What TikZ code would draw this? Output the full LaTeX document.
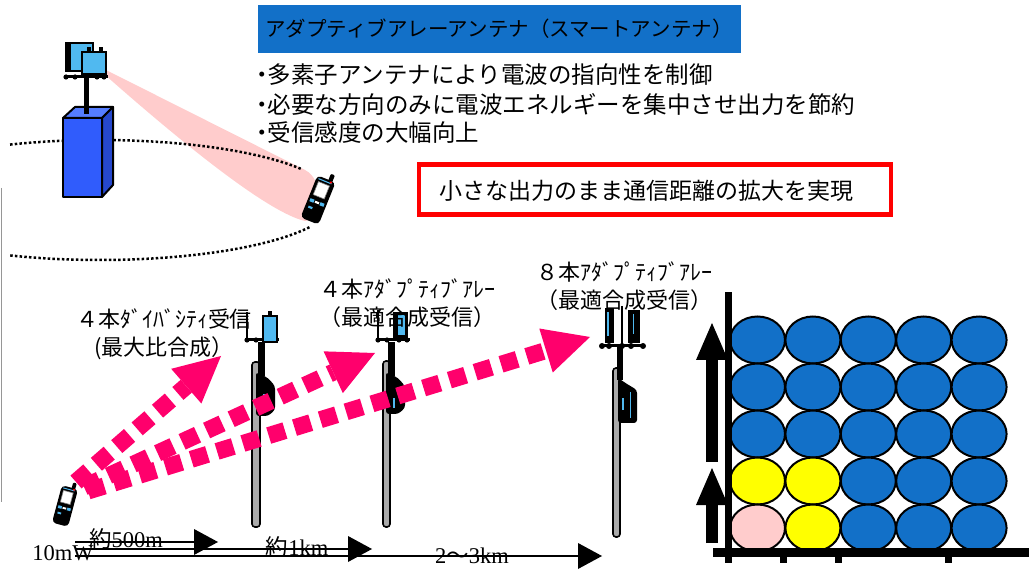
\documentclass[tikz,border=0pt]{standalone}
\usepackage{fontspec}
\newfontfamily\jp{Noto Sans CJK JP}
\newfontfamily\tnr{Liberation Serif}
\usetikzlibrary{arrows.meta,calc,shapes.geometric}
\definecolor{titleblue}{RGB}{18,112,200}
\definecolor{cellblue}{RGB}{18,112,200}
\definecolor{cellyellow}{RGB}{255,255,0}
\definecolor{cellpink}{RGB}{255,204,204}
\definecolor{wavepink}{RGB}{255,0,108}
\definecolor{beampink}{RGB}{255,204,204}
\definecolor{panelblue}{RGB}{80,185,240}
\definecolor{polegray}{RGB}{170,170,170}
\definecolor{bsfront}{RGB}{48,92,252}
\definecolor{bstop}{RGB}{85,125,255}
\definecolor{bsside}{RGB}{38,72,205}
\definecolor{edgegray}{RGB}{150,150,150}
\begin{document}
\begin{tikzpicture}[x=1pt,y=-1pt,
  every node/.style={inner sep=0pt},
  bullet/.style={font=\jp\fontsize{23.5}{28}\selectfont, anchor=west},
  lbl/.style={font=\jp\fontsize{22}{28}\selectfont, align=center},
  dist/.style={font=\tnr\fontsize{22.5}{26}\selectfont},
  wave/.style={draw=wavepink, line width=17pt, dash pattern=on 17pt off 10pt,
    -{Triangle[length=46pt,width=46pt,line width=0pt]}},
  meas/.style={draw=black, line width=2.5pt,
    -{Triangle[length=24pt,width=26pt,line width=0pt]}},
  uparrow/.style={draw=black, line width=12pt,
    -{Triangle[length=37pt,width=32pt,line width=0pt]}},
  cell/.style={ellipse, draw=black, line width=2pt, minimum width=55pt,
    minimum height=47pt, inner sep=0pt},
  panel/.style={fill=panelblue, draw=black, line width=2pt},
  polebody/.style={fill=polegray, draw=black, line width=1.6pt, rounded corners=3pt},
  phone/.pic={
    \fill[black, rounded corners=1pt] (2,-27) rectangle (6,-19);
    \fill[black, rounded corners=4pt] (-9,-21) rectangle (9,21);
    \fill[panelblue] (-7,-19) rectangle (6,-18);
    \fill[red] (5,-19.5) circle (1.2);
    \fill[white, draw=gray, line width=0.6pt] (-6,-16) rectangle (5,-3);
    \fill[panelblue] (-7,1) rectangle (-3,4);
    \fill[panelblue] (3,1) rectangle (7,4);
    \fill[white] (-2,1.5) rectangle (2,3.5);
    \fill[panelblue] (-6,8) rectangle (-2,10);
  }
]
\useasboundingbox (0,0) rectangle (1029,577);

% thin grey rule at the left edge
\draw[edgegray, line width=1.5pt] (1.5,188) -- (1.5,502);

% ---------- title and bullet points ----------
\node[fill=titleblue, minimum width=483pt, minimum height=48pt] (title) at (499.5,29) {};
\node[font=\jp\fontsize{20.5}{24}\selectfont] (titletext) at (499,29)
  {アダプティブアレーアンテナ（スマートアンテナ）};
\node[bullet] (b1) at (250,75) {・\kern-6pt 多素子アンテナにより電波の指向性を制御};
\node[bullet] (b2) at (250,104) {・\kern-6pt 必要な方向のみに電波エネルギーを集中させ出力を節約};
\node[bullet] (b3) at (250,133) {・\kern-6pt 受信感度の大幅向上};

\node[draw=red, line width=4.5pt, minimum width=472pt, minimum height=50pt] (goal) at (655,189.5) {};
\node[font=\jp\fontsize{23}{28}\selectfont] (goaltext) at (646,191)
  {小さな出力のまま通信距離の拡大を実現};

% ---------- smart antenna base station ----------
% beam towards the handset
\fill[beampink] (104,69) -- (305,170) .. controls (325,180) and (322,220) .. (305,221)
  .. controls (270,213) and (190,150) .. (104,74) -- cycle;
% dotted cell border
\draw[black, line width=2.5pt, dash pattern=on 2.5pt off 2.2pt, domain=112.5:31, samples=80]
  plot ({100+235*cos(\x)}, {200-60*sin(\x)});
\draw[black, line width=2.5pt, dash pattern=on 2.5pt off 2.2pt, domain=-27:-112.5, samples=80]
  plot ({100+235*cos(\x)}, {200-60*sin(\x)});
% building
\filldraw[fill=bsfront, draw=black, line width=2pt, line join=round] (63,118) rectangle (102,197);
\filldraw[fill=bstop, draw=black, line width=2pt, line join=round] (63,118) -- (75,107) -- (113,107) -- (102,118) -- cycle;
\filldraw[fill=bsside, draw=black, line width=2pt, line join=round] (102,118) -- (113,107) -- (113,185) -- (102,197) -- cycle;
% mast and panels
\draw[black, line width=5pt] (86,77) -- (86,114);
\draw[black, line width=3pt] (64,77) -- (108,77);
\foreach \bx in {66,75,97,104} \fill[black] (\bx,77) circle (2.6);
\draw[panel] (66,43) rectangle (93,71);
\fill[black] (66,43) rectangle (71,71);
\draw[panel] (82,52) rectangle (106,74);
\fill[black] (87,47) rectangle (91,52);
\fill[black] (99,47) rectangle (103,52);
% handset in the cell
\pic[rotate=-22, scale=1.08] (hs1) at (318,200) {phone};

% ---------- base station poles ----------
% pole with 4-branch diversity
\begin{scope}[shift={(256,0)}]
  \draw[polebody] (-4,362) rectangle (4,527);
  \fill[black] (2,342) rectangle (9,376);
  \fill[black, rounded corners=3pt] (0,372) -- (12,378) -- (19,386) -- (19,410) -- (12,416) -- (0,416) -- cycle;
  \draw[panelblue, line width=1.5pt] (8,394) -- (8,406);
  \draw[black, line width=2.5pt] (-9,312) -- (-9,340);
  \draw[black, line width=3pt] (-11,340) -- (23,340);
  \foreach \bx in {-9,0,12,20} \fill[black] (\bx,340) circle (2.6);
  \draw[panel] (7,316) rectangle (21,342);
  \fill[black] (12,311) rectangle (16,316);
\end{scope}
% pole with 4-element adaptive array
\begin{scope}[shift={(387,0)}]
  \draw[polebody] (-4,361) rectangle (3,527);
  \fill[black] (1,342) rectangle (8,376);
  \fill[black, rounded corners=3pt] (-1,372) -- (11,378) -- (18,386) -- (18,408) -- (11,414) -- (-1,414) -- cycle;
  \draw[panelblue, line width=1.5pt] (7,398) -- (7,408);
  \draw[black, line width=2.5pt] (-9,310) -- (-9,340);
  \draw[black, line width=3pt] (-11,340) -- (23,340);
  \foreach \bx in {-9,0,12,20} \fill[black] (\bx,340) circle (2.6);
  \draw[black, line width=3pt, fill=panelblue] (7,314) rectangle (19,337);
  \fill[black] (7,314) rectangle (11,337);
\end{scope}
% pole with 8-element adaptive array
\begin{scope}[shift={(617,0)}]
  \draw[polebody] (-4,368) rectangle (3,537);
  \fill[black] (0,346) rectangle (6,380);
  \fill[black, rounded corners=3pt] (1,378) -- (10,384) -- (20,390) -- (20,423) -- (1,423) -- cycle;
  \draw[panelblue, line width=1.5pt] (6,398) -- (6,410);
  \draw[panelblue, line width=1pt] (13,392) -- (13,418);
  \draw[black, line width=2.5pt] (5,306) -- (5,346);
  \draw[black, line width=3pt] (-17,346) -- (28,346);
  \foreach \bx in {-15,-8,5,14,26} \fill[black] (\bx,346) circle (3);
  \fill[black] (-12,308) rectangle (-3,343);
  \draw[panelblue, line width=1.2pt] (-9,312) -- (-9,336);
  \fill[black] (11,310) rectangle (23,343);
  \draw[panelblue, line width=1pt] (16,314) -- (16,334);
\end{scope}

% ---------- uplink from the handset ----------
\pic[rotate=-15, scale=0.92] (hs2) at (65,506) {phone};
\coordinate (srcA) at (76,482);
\coordinate (srcB) at (84,487);
\coordinate (srcC) at (88,491);
\coordinate (tipA) at (221,356);
\coordinate (tipB) at (375,353);
\coordinate (tipC) at (590,337);
\draw[wave] (srcA) -- (tipA);
\draw[wave] (srcB) -- (tipB);
\draw[wave] (srcC) -- (tipC);

\node[lbl] (lab1) at (164,334) {４本ﾀﾞｲﾊﾞｼﾃｨ受信\\(最大比合成）};
\node[lbl] (lab2) at (407,303) {４本ｱﾀﾞﾌﾟﾃｨﾌﾞｱﾚｰ\\（最適合成受信）};
\node[lbl] (lab3) at (624,286) {８本ｱﾀﾞﾌﾟﾃｨﾌﾞｱﾚｰ\\（最適合成受信）};

% ---------- coverage distances ----------
\coordinate (m1) at (75,542);
\coordinate (m2) at (75,549);
\coordinate (m3) at (75,556);
\coordinate (e1) at (218,542);
\coordinate (e2) at (372,549);
\coordinate (e3) at (602,556);
\draw[meas] (m1) -- (e1);
\draw[meas] (m2) -- (e2);
\draw[meas] (m3) -- (e3);
\node[dist] (p10) at (63,553) {10mW};
\node[dist] (r500) at (126,539) {{\jp 約}500m};
\node[dist] (r1k) at (297,547) {{\jp 約}1km};
\node[dist] (r3k) at (472,556) {2{\jp 〜}3km};

% ---------- capacity chart ----------
\foreach \r in {0,...,4}{%
  \foreach \c in {0,...,4}{%
    \def\cc{cellblue}%
    \ifnum\r=3 \ifnum\c<2 \def\cc{cellyellow}\fi\fi
    \ifnum\r=4 \ifnum\c=1 \def\cc{cellyellow}\fi\ifnum\c=0 \def\cc{cellpink}\fi\fi
    \node[cell, fill=\cc] (e\r\c) at ({757.5+55.4*\c},{340+47*\r}) {};
  }%
}
\fill[black] (725,292) rectangle (732,563);
\fill[black] (713,548) rectangle (1029,557);
\foreach \tx in {780,835,945} \fill[black] (\tx,556) rectangle (\tx+7,563);
\coordinate (ua0) at (712,462);
\coordinate (ua1) at (712,323);
\coordinate (ub0) at (712,543);
\coordinate (ub1) at (712,468);
\draw[uparrow] (ua0) -- (ua1);
\draw[uparrow] (ub0) -- (ub1);
\end{tikzpicture}
\end{document}
